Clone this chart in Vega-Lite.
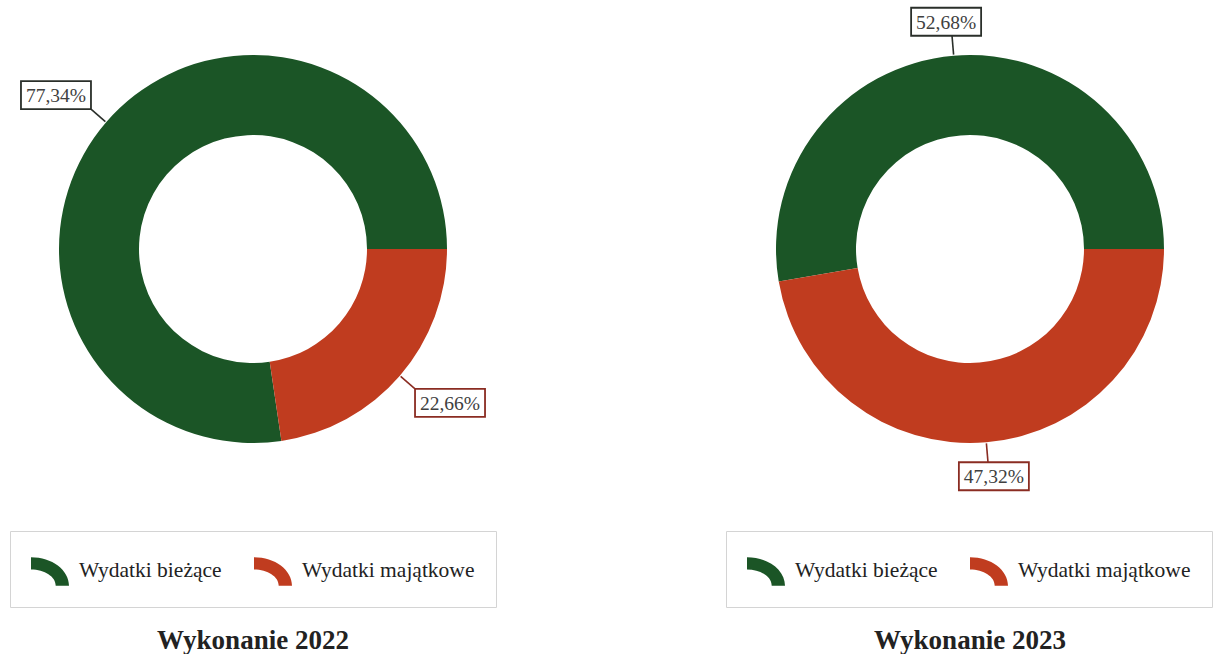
{
  "$schema": "https://vega.github.io/schema/vega-lite/v6.json",
  "padding": {"left": 9, "top": 0, "right": 0, "bottom": 0},
  "background": "white",
  "config": {"view": {"stroke": null}, "font": "Liberation Serif"},
  "datasets": {
    "d": [
      {"year": "Wykonanie 2022", "cat": "Wydatki bieżące", "value": 77.34, "label": "77,34%"},
      {"year": "Wykonanie 2022", "cat": "Wydatki majątkowe", "value": 22.66, "label": "22,66%"},
      {"year": "Wykonanie 2023", "cat": "Wydatki bieżące", "value": 52.68, "label": "52,68%"},
      {"year": "Wykonanie 2023", "cat": "Wydatki majątkowe", "value": 47.32, "label": "47,32%"}
    ]
  },
  "spacing": 228,
  "resolve": {"legend": {"color": "independent"}, "scale": {"x": "independent", "y": "independent", "theta": "independent"}},
  "hconcat": [
    {
      "width": 488, "height": 498,
      "data": {"name": "d"},
      "transform": [
        {"filter": "datum.year === 'Wykonanie 2022'"},
        {"stack": "value", "groupby": [], "sort": [{"field": "cat", "order": "descending"}], "as": ["s0", "s1"]},
        {"calculate": "PI/2 + PI*(datum.s0+datum.s1)/100", "as": "a"},
        {"calculate": "sin(datum.a)*195", "as": "lx0"},
        {"calculate": "cos(datum.a)*195", "as": "ly0"},
        {"calculate": "sin(datum.a)*214", "as": "lx1"},
        {"calculate": "cos(datum.a)*214", "as": "ly1"},
        {"calculate": "sin(datum.a)*214 + 35*clamp(2*sin(datum.a),-1,1)", "as": "bx"},
        {"calculate": "cos(datum.a)*214 + 14*clamp(2*cos(datum.a),-1,1)", "as": "by"}
      ],
      "title": {"text": "Wykonanie 2022", "orient": "bottom", "anchor": "middle", "font": "Liberation Serif", "fontSize": 27, "fontWeight": "bold", "color": "#222222", "offset": 20},
      "layer": [
        {
          "mark": {"type": "arc", "outerRadius": 194, "innerRadius": 114},
          "encoding": {
            "theta": {"field": "value", "type": "quantitative", "stack": true, "scale": {"domain": [0, 100], "range": [1.5708, 7.854]}},
            "order": {"field": "cat", "type": "ordinal", "sort": "descending"},
            "color": {"field": "cat", "type": "nominal",
              "scale": {"domain": ["Wydatki bieżące", "Wydatki majątkowe"], "range": ["#1b5526", "#c03c1f"]},
              "legend": {"orient": "none", "legendX": 1, "legendY": 531, "direction": "horizontal", "columns": 2, "title": null,
                "symbolType": "M-1,-0.75A2,1.5 0 0 1 1,0.75L0.3,0.75A1.3,0.85 0 0 0 -1,-0.1Z",
                "symbolSize": 1444, "symbolStrokeWidth": 0, "symbolOpacity": 1,
                "labelFont": "Liberation Serif", "labelFontSize": 21.5, "labelColor": "#222222", "labelOffset": 10,
                "columnPadding": 32, "padding": 21, "strokeColor": "#d4d4d4", "fillColor": "white", "labelLimit": 300}}
          }
        },
        {
          "mark": {"type": "rule", "strokeWidth": 1.6},
          "encoding": {
            "x": {"field": "lx0", "type": "quantitative", "scale": {"domain": [-244, 244], "nice": false, "zero": false}, "axis": null},
            "y": {"field": "ly0", "type": "quantitative", "scale": {"domain": [-249, 249], "nice": false, "zero": false}, "axis": null},
            "x2": {"field": "lx1"},
            "y2": {"field": "ly1"},
            "stroke": {"field": "cat", "type": "nominal", "scale": {"domain": ["Wydatki bieżące", "Wydatki majątkowe"], "range": ["#2a2f2a", "#8a2c22"]}, "legend": null}
          }
        },
        {
          "mark": {"type": "point", "shape": "M-1,-0.4H1V0.4H-1Z", "size": 4900, "filled": true, "fill": "white", "opacity": 1, "strokeWidth": 1.8, "strokeOpacity": 1},
          "encoding": {
            "x": {"field": "bx", "type": "quantitative", "scale": {"domain": [-244, 244], "nice": false, "zero": false}, "axis": null},
            "y": {"field": "by", "type": "quantitative", "scale": {"domain": [-249, 249], "nice": false, "zero": false}, "axis": null},
            "stroke": {"field": "cat", "type": "nominal", "legend": null}
          }
        },
        {
          "mark": {"type": "text", "fontSize": 19.5, "font": "Liberation Serif", "color": "#404040", "align": "center", "baseline": "middle", "dy": 1},
          "encoding": {
            "x": {"field": "bx", "type": "quantitative", "axis": null},
            "y": {"field": "by", "type": "quantitative", "axis": null},
            "text": {"field": "label", "type": "nominal"}
          }
        }
      ]
    },
    {
      "width": 488, "height": 498,
      "data": {"name": "d"},
      "transform": [
        {"filter": "datum.year === 'Wykonanie 2023'"},
        {"stack": "value", "groupby": [], "sort": [{"field": "cat", "order": "descending"}], "as": ["s0", "s1"]},
        {"calculate": "PI/2 + PI*(datum.s0+datum.s1)/100", "as": "a"},
        {"calculate": "sin(datum.a)*195", "as": "lx0"},
        {"calculate": "cos(datum.a)*195", "as": "ly0"},
        {"calculate": "sin(datum.a)*214", "as": "lx1"},
        {"calculate": "cos(datum.a)*214", "as": "ly1"},
        {"calculate": "sin(datum.a)*214 + 35*clamp(2*sin(datum.a),-1,1)", "as": "bx"},
        {"calculate": "cos(datum.a)*214 + 14*clamp(2*cos(datum.a),-1,1)", "as": "by"}
      ],
      "title": {"text": "Wykonanie 2023", "orient": "bottom", "anchor": "middle", "font": "Liberation Serif", "fontSize": 27, "fontWeight": "bold", "color": "#222222", "offset": 20},
      "layer": [
        {
          "mark": {"type": "arc", "outerRadius": 194, "innerRadius": 114},
          "encoding": {
            "theta": {"field": "value", "type": "quantitative", "stack": true, "scale": {"domain": [0, 100], "range": [1.5708, 7.854]}},
            "order": {"field": "cat", "type": "ordinal", "sort": "descending"},
            "color": {"field": "cat", "type": "nominal",
              "scale": {"domain": ["Wydatki bieżące", "Wydatki majątkowe"], "range": ["#1b5526", "#c03c1f"]},
              "legend": {"orient": "none", "legendX": 0, "legendY": 531, "direction": "horizontal", "columns": 2, "title": null,
                "symbolType": "M-1,-0.75A2,1.5 0 0 1 1,0.75L0.3,0.75A1.3,0.85 0 0 0 -1,-0.1Z",
                "symbolSize": 1444, "symbolStrokeWidth": 0, "symbolOpacity": 1,
                "labelFont": "Liberation Serif", "labelFontSize": 21.5, "labelColor": "#222222", "labelOffset": 10,
                "columnPadding": 32, "padding": 21, "strokeColor": "#d4d4d4", "fillColor": "white", "labelLimit": 300}}
          }
        },
        {
          "mark": {"type": "rule", "strokeWidth": 1.6},
          "encoding": {
            "x": {"field": "lx0", "type": "quantitative", "scale": {"domain": [-244, 244], "nice": false, "zero": false}, "axis": null},
            "y": {"field": "ly0", "type": "quantitative", "scale": {"domain": [-249, 249], "nice": false, "zero": false}, "axis": null},
            "x2": {"field": "lx1"},
            "y2": {"field": "ly1"},
            "stroke": {"field": "cat", "type": "nominal", "scale": {"domain": ["Wydatki bieżące", "Wydatki majątkowe"], "range": ["#2a2f2a", "#8a2c22"]}, "legend": null}
          }
        },
        {
          "mark": {"type": "point", "shape": "M-1,-0.4H1V0.4H-1Z", "size": 4900, "filled": true, "fill": "white", "opacity": 1, "strokeWidth": 1.8, "strokeOpacity": 1},
          "encoding": {
            "x": {"field": "bx", "type": "quantitative", "scale": {"domain": [-244, 244], "nice": false, "zero": false}, "axis": null},
            "y": {"field": "by", "type": "quantitative", "scale": {"domain": [-249, 249], "nice": false, "zero": false}, "axis": null},
            "stroke": {"field": "cat", "type": "nominal", "legend": null}
          }
        },
        {
          "mark": {"type": "text", "fontSize": 19.5, "font": "Liberation Serif", "color": "#404040", "align": "center", "baseline": "middle", "dy": 1},
          "encoding": {
            "x": {"field": "bx", "type": "quantitative", "axis": null},
            "y": {"field": "by", "type": "quantitative", "axis": null},
            "text": {"field": "label", "type": "nominal"}
          }
        }
      ]
    }
  ]
}
